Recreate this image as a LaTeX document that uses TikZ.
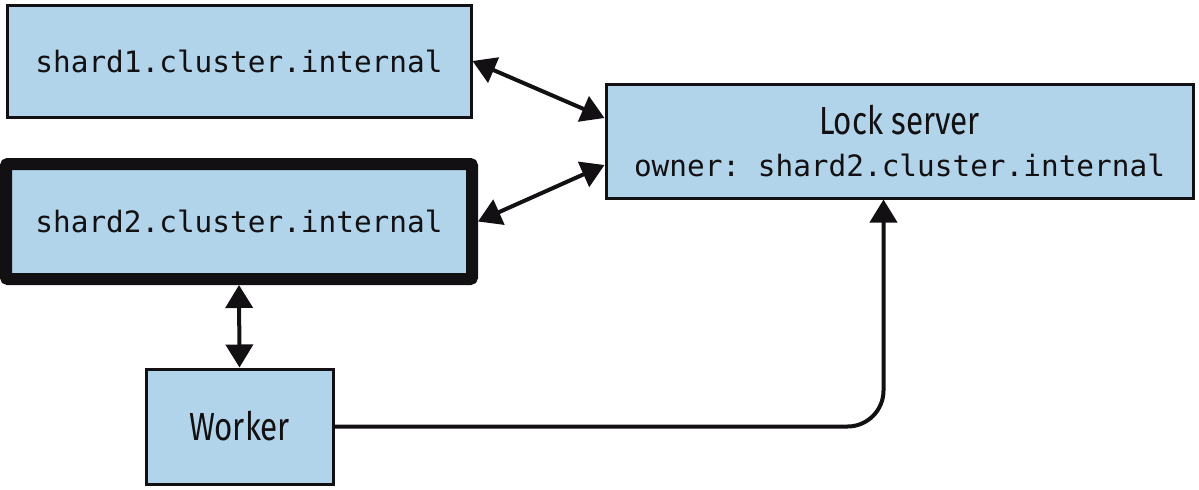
\documentclass[tikz,border=0pt]{standalone}
\usepackage{fontspec}
\setmonofont{DejaVu Sans Mono}
\newfontfamily\labelfont[FakeStretch=0.8]{Fira Sans}
\usetikzlibrary{arrows.meta}
\definecolor{boxblue}{RGB}{178,212,234}
\definecolor{ink}{RGB}{18,16,18}
\begin{document}
\begin{tikzpicture}[x=0.5pt, y=-0.5pt, >={Triangle[length=11.5pt,width=13.5pt]},
  box/.style={draw=ink, fill=boxblue, line width=1.5pt, inner sep=0pt, text=ink},
  hostfont/.style={font=\ttfamily\fontsize{14.7}{18}\selectfont},
  link/.style={draw=ink, line width=2pt}]
\useasboundingbox (0,0) rectangle (1199,489);
\node[box, hostfont, minimum width=232pt, minimum height=56pt] (shard1) at (239,61){shard1.cluster.internal};
\node[box, hostfont, line width=6pt, rounded corners=1pt, minimum width=233pt, minimum height=57.5pt] (shard2) at (239,221.5){shard2.cluster.internal};
\node[box, align=center, minimum width=293.5pt, minimum height=57pt] (lock) at (899.5,141){{\labelfont\fontsize{19.6}{22}\selectfont Lock server}\\[9pt]{\ttfamily\fontsize{14.7}{18}\selectfont owner: shard2.cluster.internal}};
\node[box, font=\labelfont\fontsize{19.6}{22}\selectfont, minimum width=93.5pt, minimum height=57.5pt] (worker) at (239.5,426.5){Worker};
\draw[link, <->] (shard1.east) -- ([yshift=11.5pt]lock.west);
\draw[link, <->] (shard2.east) -- ([yshift=-12pt]lock.west);
\draw[link, <->] (shard2.south) -- (worker.north);
\draw[link, ->, rounded corners=18pt] (worker.east) -| ([xshift=-8pt]lock.south);
\end{tikzpicture}
\end{document}
